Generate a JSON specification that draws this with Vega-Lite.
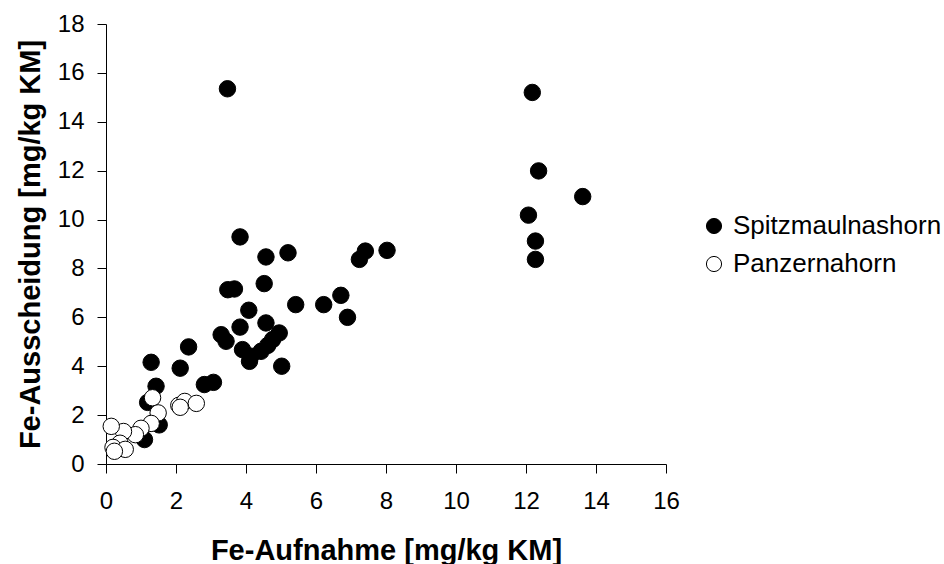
{
  "$schema": "https://vega.github.io/schema/vega-lite/v6.json",
  "width": 560,
  "height": 440,
  "autosize": {"type": "none"},
  "padding": {"left": 106, "top": 24, "right": 278, "bottom": 100},
  "background": "white",
  "config": {
    "view": {"stroke": null},
    "font": "Liberation Sans",
    "axis": {
      "domainColor": "black",
      "tickColor": "black",
      "tickSize": 9,
      "grid": false,
      "labelFlush": false,
      "labelOverlap": false,
      "labelColor": "black",
      "labelFont": "Liberation Sans",
      "labelFontSize": 24,
      "labelPadding": 13,
      "titleColor": "black",
      "titleFont": "Liberation Sans",
      "titleFontSize": 29,
      "titleFontWeight": "bold"
    }
  },
  "data": {
    "values": [
      {"x": 3.47, "y": 15.35, "s": "Spitzmaulnashorn"},
      {"x": 12.18, "y": 15.2, "s": "Spitzmaulnashorn"},
      {"x": 12.36, "y": 11.99, "s": "Spitzmaulnashorn"},
      {"x": 13.62, "y": 10.94, "s": "Spitzmaulnashorn"},
      {"x": 12.07, "y": 10.18, "s": "Spitzmaulnashorn"},
      {"x": 12.27, "y": 9.12, "s": "Spitzmaulnashorn"},
      {"x": 12.27, "y": 8.37, "s": "Spitzmaulnashorn"},
      {"x": 8.03, "y": 8.74, "s": "Spitzmaulnashorn"},
      {"x": 7.41, "y": 8.71, "s": "Spitzmaulnashorn"},
      {"x": 7.24, "y": 8.37, "s": "Spitzmaulnashorn"},
      {"x": 5.2, "y": 8.64, "s": "Spitzmaulnashorn"},
      {"x": 4.57, "y": 8.47, "s": "Spitzmaulnashorn"},
      {"x": 3.83, "y": 9.29, "s": "Spitzmaulnashorn"},
      {"x": 3.48, "y": 7.13, "s": "Spitzmaulnashorn"},
      {"x": 3.67, "y": 7.16, "s": "Spitzmaulnashorn"},
      {"x": 4.52, "y": 7.38, "s": "Spitzmaulnashorn"},
      {"x": 4.08, "y": 6.29, "s": "Spitzmaulnashorn"},
      {"x": 5.42, "y": 6.52, "s": "Spitzmaulnashorn"},
      {"x": 6.22, "y": 6.52, "s": "Spitzmaulnashorn"},
      {"x": 6.71, "y": 6.9, "s": "Spitzmaulnashorn"},
      {"x": 6.9, "y": 6.0, "s": "Spitzmaulnashorn"},
      {"x": 3.83, "y": 5.6, "s": "Spitzmaulnashorn"},
      {"x": 3.29, "y": 5.29, "s": "Spitzmaulnashorn"},
      {"x": 3.43, "y": 5.02, "s": "Spitzmaulnashorn"},
      {"x": 4.57, "y": 5.77, "s": "Spitzmaulnashorn"},
      {"x": 4.95, "y": 5.36, "s": "Spitzmaulnashorn"},
      {"x": 4.76, "y": 5.09, "s": "Spitzmaulnashorn"},
      {"x": 3.9, "y": 4.68, "s": "Spitzmaulnashorn"},
      {"x": 4.14, "y": 4.41, "s": "Spitzmaulnashorn"},
      {"x": 4.1, "y": 4.2, "s": "Spitzmaulnashorn"},
      {"x": 4.43, "y": 4.61, "s": "Spitzmaulnashorn"},
      {"x": 4.62, "y": 4.85, "s": "Spitzmaulnashorn"},
      {"x": 5.02, "y": 4.0, "s": "Spitzmaulnashorn"},
      {"x": 2.36, "y": 4.79, "s": "Spitzmaulnashorn"},
      {"x": 2.12, "y": 3.92, "s": "Spitzmaulnashorn"},
      {"x": 1.29, "y": 4.16, "s": "Spitzmaulnashorn"},
      {"x": 1.43, "y": 3.18, "s": "Spitzmaulnashorn"},
      {"x": 2.81, "y": 3.25, "s": "Spitzmaulnashorn"},
      {"x": 3.07, "y": 3.34, "s": "Spitzmaulnashorn"},
      {"x": 1.19, "y": 2.52, "s": "Spitzmaulnashorn"},
      {"x": 1.52, "y": 1.6, "s": "Spitzmaulnashorn"},
      {"x": 1.1, "y": 1.0, "s": "Spitzmaulnashorn"},
      {"x": 1.33, "y": 2.71, "s": "Panzernahorn"},
      {"x": 1.49, "y": 2.09, "s": "Panzernahorn"},
      {"x": 1.29, "y": 1.66, "s": "Panzernahorn"},
      {"x": 1.0, "y": 1.46, "s": "Panzernahorn"},
      {"x": 0.84, "y": 1.2, "s": "Panzernahorn"},
      {"x": 0.5, "y": 1.33, "s": "Panzernahorn"},
      {"x": 0.15, "y": 1.54, "s": "Panzernahorn"},
      {"x": 0.4, "y": 0.85, "s": "Panzernahorn"},
      {"x": 0.2, "y": 0.68, "s": "Panzernahorn"},
      {"x": 0.55, "y": 0.6, "s": "Panzernahorn"},
      {"x": 0.24, "y": 0.52, "s": "Panzernahorn"},
      {"x": 2.08, "y": 2.4, "s": "Panzernahorn"},
      {"x": 2.25, "y": 2.56, "s": "Panzernahorn"},
      {"x": 2.58, "y": 2.48, "s": "Panzernahorn"},
      {"x": 2.12, "y": 2.32, "s": "Panzernahorn"}
    ]
  },
  "mark": {"type": "point", "shape": "circle", "filled": true, "size": 270, "stroke": "black", "strokeWidth": 1, "opacity": 1},
  "encoding": {
    "x": {
      "field": "x", "type": "quantitative",
      "scale": {"domain": [0, 16], "nice": false, "zero": true},
      "axis": {"values": [0, 2, 4, 6, 8, 10, 12, 14, 16], "title": "Fe-Aufnahme [mg/kg KM]", "titleBaseline": "alphabetic", "titleY": 95, "labelPadding": 16}
    },
    "y": {
      "field": "y", "type": "quantitative",
      "scale": {"domain": [0, 18], "nice": false},
      "axis": {"values": [0, 2, 4, 6, 8, 10, 12, 14, 16, 18], "title": "Fe-Ausscheidung [mg/kg KM]", "titleX": -76, "titleBaseline": "middle"}
    },
    "fill": {
      "field": "s", "type": "nominal",
      "scale": {"domain": ["Spitzmaulnashorn", "Panzernahorn"], "range": ["black", "white"]},
      "legend": {
        "title": null,
        "orient": "none",
        "legendX": 595,
        "legendY": 189,
        "symbolType": "circle",
        "symbolSize": 230,
        "symbolStrokeColor": "black",
        "symbolStrokeWidth": 1,
        "labelFont": "Liberation Sans",
        "labelFontSize": 26,
        "labelLimit": 400,
        "labelColor": "black",
        "labelOffset": 6,
        "rowPadding": 12,
        "padding": 0
      }
    }
  }
}
